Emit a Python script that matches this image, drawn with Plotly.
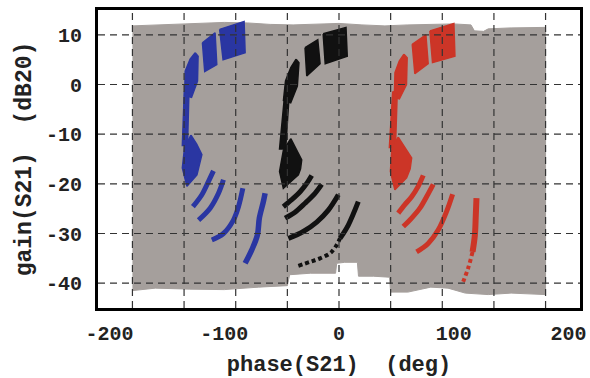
import plotly.graph_objects as go

# ---------------- data ----------------
X_TICKS = [-200, -100, 0, 100, 200]
Y_TICKS = [-40, -30, -20, -10, 0, 10]
X_GRID = [-180, -135, -90, -45, 0, 45, 90, 135, 180]
Y_GRID = [-40, -30, -20, -10, 0, 10]

# measured region (gray): top edge left->right, bottom edge right->left
GRAY_TOP_PHASE = [-180, -160, -130, -100, -80, -60, -40, -20, 0, 20, 40, 60, 80, 100, 115, 118, 126, 130, 150, 180]
GRAY_TOP_GAIN = [11.8, 12.0, 12.2, 12.5, 12.4, 12.1, 12.0, 12.2, 12.3, 12.0, 11.8, 12.0, 12.1, 12.2, 12.0, 10.8, 10.7, 11.2, 11.4, 11.5]
GRAY_BOTTOM_PHASE = [180, 150, 130, 110, 95, 80, 60, 45, 44, 30, 17, 16, 5, -2, -3, -25, -43, -45, -70, -100, -130, -160, -180]
GRAY_BOTTOM_GAIN = [-42.3, -42.0, -42.3, -42.0, -41.0, -40.8, -41.8, -41.8, -38.8, -38.6, -38.6, -35.8, -35.8, -36.0, -38.0, -38.0, -38.3, -40.5, -40.8, -41.3, -41.2, -41.0, -41.5]

# blue constellation
BLUE_PATCH_PHASE = [
    [-119, -108, -106.5, -117],
    [-104, -82.7, -81.8, -101],
    [-125.3, -122.8, -123.3, -128.5, -134.5, -134, -129.7],
    [-134.8, -130.8, -132, -136.5],
    [-129, -124, -119.5, -121.5, -123.8, -132.5, -136.5, -134.5],
]
BLUE_PATCH_GAIN = [
    [8.4, 10.4, 4.0, 2.6],
    [11.1, 12.7, 6.4, 5.0],
    [6.4, 5.7, 0.7, -2.6, -2.2, 2.7, 5.1],
    [-1.4, -1.7, -12.3, -12.3],
    [-10.2, -12.0, -14.1, -16.0, -18.2, -20.5, -16.8, -12.6],
]
BLUE_ARC_PHASE = [
    [-127.3, -119.5, -113.7, -109.4],
    [-122.4, -112.3, -105, -100.7],
    [-110.8, -100.7, -92, -87.6, -83.8],
    [-81.8, -76, -71.1, -69.4, -65.9, -64.4],
]
BLUE_ARC_GAIN = [
    [-24.6, -22.2, -19.5, -17.4],
    [-27.3, -24.9, -21.9, -19.2],
    [-31.3, -30.0, -27.3, -24.6, -20.9],
    [-36.0, -33.3, -30.3, -26.9, -23.6, -21.9],
]

# black constellation
BLACK_PATCH_PHASE = [
    [-29.6, -18.5, -16.5, -28.1],
    [-13.8, 6.1, 7.2, -12],
    [-37.4, -34.9, -36.3, -42.1, -48.4, -46.6, -42],
    [-47.5, -43.6, -46.5, -51.8],
    [-42, -37, -32.5, -33.5, -35.4, -48.5, -51.8, -48.5],
]
BLACK_PATCH_GAIN = [
    [7.4, 9.0, 4.2, 1.7],
    [10.2, 11.5, 5.7, 4.2],
    [5.1, 4.4, -0.3, -3.7, -3.2, 0.7, 3.4],
    [-2.4, -2.7, -13.0, -13.0],
    [-10.9, -13.0, -15.2, -17.0, -18.2, -20.9, -17.5, -13.3],
]
BLACK_ARC_PHASE = [
    [-48.5, -41.2, -33.9, -28.1, -23.8],
    [-47, -38.3, -29.6, -20.9, -15.1],
    [-44.1, -31.1, -19.4, -9.3, -0.6],
    [-35.4, -25.2, -16.5, -6.4, 0.9, 8.1, 16.8],
]
BLACK_ARC_GAIN = [
    [-24.6, -23.2, -21.6, -19.9, -18.3],
    [-26.9, -25.7, -23.9, -21.9, -20.1],
    [-31.0, -29.6, -27.7, -25.3, -22.2],
    [-36.5, -35.7, -35.0, -33.7, -31.0, -28.3, -23.6],
]

# red constellation
RED_PATCH_PHASE = [
    [63.8, 75.7, 77.7, 66.1],
    [79.2, 100.1, 101, 81.5],
    [56.6, 59.4, 58.8, 52.6, 48.2, 48.8, 52.5],
    [46.8, 50.7, 49.2, 43.9],
    [51.6, 57, 63.3, 62, 58.9, 48.7, 44.8, 46.2],
]
RED_PATCH_GAIN = [
    [8.1, 10.0, 4.2, 2.2],
    [10.8, 12.3, 5.7, 4.4],
    [6.1, 5.4, 0, -2.9, -2.6, 2.4, 4.7],
    [-1.4, -2.0, -12.7, -12.7],
    [-10.6, -12.5, -14.8, -17.0, -18.8, -21.2, -17.5, -12.6],
]
RED_ARC_PHASE = [
    [51.6, 57.4, 63.3, 69.0, 73.4],
    [56, 63.3, 70.5, 76.3, 82.1],
    [67.6, 77.7, 86.4, 93.7, 99],
    [119.8, 119.2, 118.4, 116.4, 112.5, 108.2],
]
RED_ARC_GAIN = [
    [-25.9, -24.2, -22.6, -20.5, -18.3],
    [-28.6, -26.9, -24.9, -22.6, -20.1],
    [-33.7, -32.0, -29.3, -25.6, -22.1],
    [-22.9, -26.3, -30.3, -33.7, -37.0, -39.7],
]

# ---------------- styling ----------------
GRAY = "#a59f9c"
BLUE = "#2a36a2"
BLACK = "#111111"
RED = "#cc3527"
FONT = "Liberation Mono"
TEXT = "#222222"

fig = go.Figure()

fig.add_trace(go.Scatter(
    x=GRAY_TOP_PHASE + GRAY_BOTTOM_PHASE,
    y=GRAY_TOP_GAIN + GRAY_BOTTOM_GAIN,
    fill="toself", fillcolor=GRAY, mode="lines",
    line=dict(color=GRAY, width=1), hoverinfo="skip", showlegend=False,
))


def add_arc(xs, ys, color, width, dash="solid"):
    fig.add_trace(go.Scatter(
        x=xs, y=ys, mode="lines",
        line=dict(color=color, width=width, shape="spline", dash=dash),
        hoverinfo="skip", showlegend=False,
    ))


for name, color, pp, pg, ap, ag in [
    ("blue", BLUE, BLUE_PATCH_PHASE, BLUE_PATCH_GAIN, BLUE_ARC_PHASE, BLUE_ARC_GAIN),
    ("black", BLACK, BLACK_PATCH_PHASE, BLACK_PATCH_GAIN, BLACK_ARC_PHASE, BLACK_ARC_GAIN),
    ("red", RED, RED_PATCH_PHASE, RED_PATCH_GAIN, RED_ARC_PHASE, RED_ARC_GAIN),
]:
    for xs, ys in zip(pp, pg):
        fig.add_trace(go.Scatter(
            x=xs + xs[:1], y=ys + ys[:1], fill="toself", fillcolor=color,
            mode="lines", line=dict(color=color, width=1.5),
            hoverinfo="skip", showlegend=False,
        ))
    for i, (xs, ys) in enumerate(zip(ap, ag)):
        last = i == len(ap) - 1
        if last and name == "black":
            add_arc(xs[:5], ys[:5], color, 4, "4px,3px")
            add_arc(xs[4:], ys[4:], color, 5)
        elif last and name == "red":
            add_arc(xs[:4], ys[:4], color, 6)
            add_arc(xs[3:], ys[3:], color, 4, "4px,3px")
        elif last:
            add_arc(xs, ys, color, 5.5)
        else:
            add_arc(xs, ys, color, 5)

# dashed grid drawn above the data
for v in X_GRID:
    fig.add_shape(type="line", xref="x", yref="y domain", x0=v, x1=v, y0=0, y1=1,
                  line=dict(color="#333333", width=1.2, dash="7px,5px"), layer="above")
for v in Y_GRID:
    fig.add_shape(type="line", xref="x domain", yref="y", x0=0, x1=1, y0=v, y1=v,
                  line=dict(color="#333333", width=1.2, dash="7px,5px"), layer="above")

axis_common = dict(
    showgrid=False, zeroline=False, showline=True, mirror=True,
    linecolor="black", linewidth=3, automargin=False,
    ticks="outside", tickcolor="rgba(0,0,0,0)",
    tickfont=dict(family=FONT, size=20, color=TEXT, weight="bold"),
)

fig.update_xaxes(
    range=[-210, 210], tickvals=X_TICKS, ticktext=[str(v) for v in X_TICKS],
    ticklen=5,
    title=dict(text="phase(S21)  (deg)", standoff=16,
               font=dict(family=FONT, size=22, color=TEXT, weight="bold")),
    **axis_common,
)
fig.update_yaxes(
    range=[-45, 15], tickvals=Y_TICKS, ticktext=[str(v) for v in Y_TICKS],
    ticklen=9,
    title=dict(text="gain(S21)  (dB20)", standoff=8,
               font=dict(family=FONT, size=23, color=TEXT, weight="bold")),
    **axis_common,
)

fig.update_layout(
    width=590, height=378,
    margin=dict(l=98, r=10, t=10, b=70),
    plot_bgcolor="white", paper_bgcolor="white",
    showlegend=False,
)

fig.write_html("out.html")
